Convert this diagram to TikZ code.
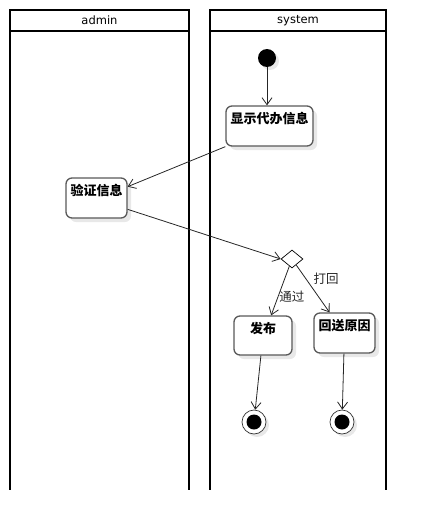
\documentclass[tikz,border=0pt]{standalone}
\usepackage{fontspec}
\setmainfont{DejaVu Sans}
\newfontfamily\cjk{Noto Sans CJK SC}
\usetikzlibrary{positioning,arrows.meta,shapes.geometric,shadows}
\tikzset{
  actnode/.style = {align=center, inner sep=0pt, text centered,
    font=\cjk\bfseries\fontsize{13}{13}\selectfont},
  act_b/.style = {actnode, rectangle, rounded corners=6pt, draw=black!65,
    line width=1.3pt, fill=white, text height=17pt, text depth=23pt,
    drop shadow={shadow xshift=4pt, shadow yshift=-4pt, fill=black!9, opacity=1}},
  act_i/.style = {circle, fill=black, minimum size=18pt, inner sep=0pt,
    drop shadow={shadow xshift=3pt, shadow yshift=-3pt, fill=black!9, opacity=1}},
  act_f/.style = {circle, draw=black!80, fill=white, line width=0.7pt,
    minimum size=24pt, inner sep=0pt,
    drop shadow={shadow xshift=3pt, shadow yshift=-3pt, fill=black!9, opacity=1},
    path picture={\fill[black] (path picture bounding box.center) circle (7.5pt);}},
  act_d/.style = {diamond, draw=black, line width=0.7pt, fill=white,
    minimum width=22pt, minimum height=18pt, inner sep=0pt},
  lane/.style = {line width=1.6pt},
  lbl/.style = {font=\cjk\fontsize{12.5}{12.5}\selectfont, inner sep=1pt}
}
\begin{document}
\begin{tikzpicture}[x=1pt,y=-1pt,->,>={Straight Barb[length=7pt,width=10pt]},
  every edge/.style={draw, line width=0.8pt, black!85}]
\useasboundingbox (0,0) rectangle (426,530);
% swimlanes
\draw[lane,-] (10,10) rectangle (189,31);
\draw[lane,-] (10,31) -- (10,490) (189,31) -- (189,490);
\draw[lane,-] (210,10) rectangle (386,31);
\draw[lane,-] (210,31) -- (210,490) (386,31) -- (386,490);
\node (admin) at (99.5,20.5) {\fontsize{11.5}{11.5}\selectfont admin};
\node (system) at (298,20.5) {\fontsize{11.5}{11.5}\selectfont system};
% activities
\node (init) [act_i] at (267,58) {};
\node (show) [act_b, minimum width=87pt] at (269.5,126) {显示代办信息};
\node (check) [act_b, minimum width=61pt] at (96.5,198) {验证信息};
\node (dec) [act_d] at (292,259) {};
\node (pub) [act_b, minimum width=58pt, text depth=22pt] at (263,335.5) {发布};
\node (ret) [act_b, minimum width=61pt] at (344.5,333) {回送原因};
\node (fin1) [act_f] at (254,422) {};
\node (fin2) [act_f] at (342,422) {};
%
\path (init) edge (init |- show.north)
      (show.south west) edge (check.20)
      (check.-20) edge (dec.west)
      (dec) edge node[lbl, pos=0.62, right] {通过} (pub.68)
      (dec) edge node[lbl, pos=0.45, above right, xshift=1pt] {打回} (ret.126)
      (pub) edge (fin1)
      (ret) edge (fin2);
\end{tikzpicture}
\end{document}
